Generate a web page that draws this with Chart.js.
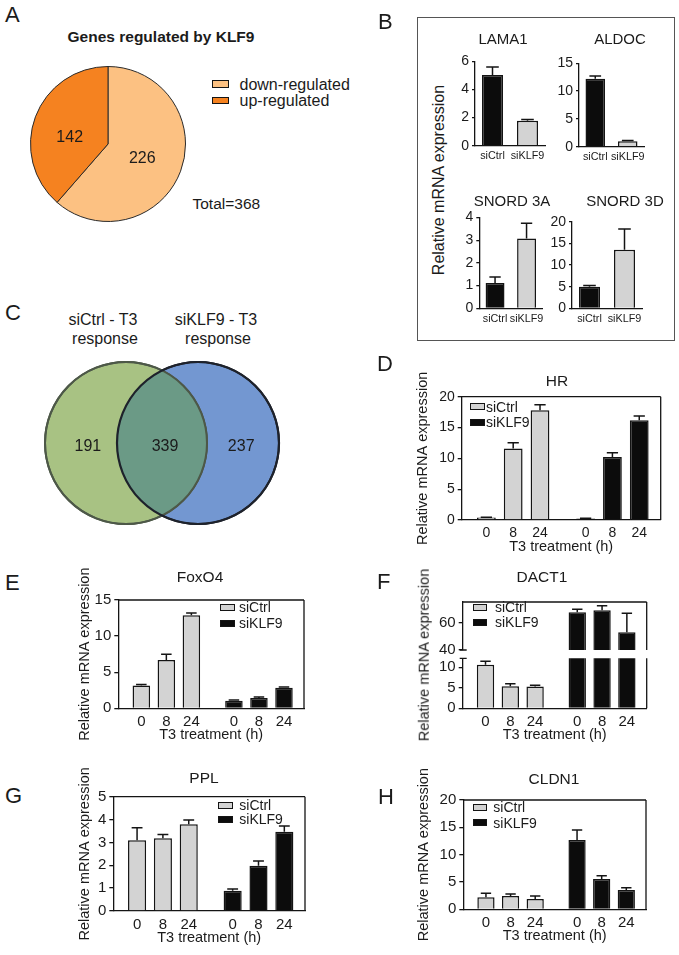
<!DOCTYPE html>
<html>
<head>
<meta charset="utf-8">
<script src="https://cdn.jsdelivr.net/npm/chart.js@4.4.0/dist/chart.umd.min.js"></script>
<style>
  body { margin: 0; background: #fff; }
  #fig { position: relative; width: 679px; height: 955px; overflow: hidden;
         font-family: 'Liberation Sans', Arial, sans-serif; color: #1b1b1b; }
  #fig canvas { position: absolute; }
  .t { position: absolute; white-space: nowrap; line-height: 1; }
  .sw { position: absolute; box-sizing: border-box; border: 1.5px solid #141414; }
  .box { position: absolute; box-sizing: border-box; border: 1.5px solid #555; }
</style>
</head>
<body>
<div id="fig"></div>
<script>
// ---- data ----
const pieLabels = ['down-regulated', 'up-regulated'];
const pieCounts = [226, 142];

const vennLabels = [['siCtrl - T3', 'response'], ['siKLF9 - T3', 'response']];
const vennCounts = [191, 339, 237]; // siCtrl only, both, siKLF9 only

const bGroups = ['siCtrl', 'siKLF9'];
const lama1 = [5.02, 1.78], lama1Err = [0.58, 0.08];
const aldoc = [12.2, 1.0], aldocErr = [0.5, 0.1];
const snord3a = [1.11, 3.08], snord3aErr = [0.27, 0.67];
const snord3d = [5.0, 13.5], snord3dErr = [0.25, 4.8];

const timeLabels = ['0', '8', '24', '0', '8', '24'];
const hrCtrl = [0.4, 11.6, 17.8], hrCtrlErr = [0.05, 0.95, 0.9];
const hrKlf = [0.25, 10.2, 16.2], hrKlfErr = [0.05, 0.7, 0.65];
const foxCtrl = [3.15, 6.7, 12.9], foxCtrlErr = [0.15, 0.8, 0.3];
const foxKlf = [1.06, 1.43, 2.86], foxKlfErr = [0.08, 0.12, 0.08];
const dactCtrl = [10.6, 5.4, 5.3], dactCtrlErr = [0.9, 0.6, 0.3];
const dactKlf = [67.5, 69, 52.9], dactKlfErr = [2.2, 3.3, 13.9];
const pplCtrl = [3.09, 3.18, 3.79], pplCtrlErr = [0.55, 0.17, 0.19];
const pplKlf = [0.89, 1.98, 3.47], pplKlfErr = [0.07, 0.21, 0.25];
const cldnCtrl = [2.2, 2.44, 1.9], cldnCtrlErr = [0.73, 0.36, 0.55];
const cldnKlf = [12.7, 5.55, 3.54], cldnKlfErr = [1.8, 0.61, 0.42];

// ---- styles / layout ----
const INK = '#1b1b1b', EDGE = '#141414', GRAY = '#d3d3d3', BLACK = '#0c0c0c';
const PIE_COLORS = ['#fcc182', '#f58220'];
const GREEN = '#a8c283', BLUE = '#7397d1', OVERLAP = '#6b9a86';
const GREEN_EDGE = '#4d5848', BLUE_EDGE = '#1e222b';
const slots = [0, 1, 2, 3.7, 4.7, 5.7];
const FONT = "'Liberation Sans', Arial, sans-serif";

Chart.defaults.font.family = FONT;
Chart.defaults.color = INK;

const fig = document.getElementById('fig');

function addCanvas(l, t, w, h) {
  const c = document.createElement('canvas');
  c.width = w; c.height = h;
  c.style.left = l + 'px'; c.style.top = t + 'px';
  c.style.width = w + 'px'; c.style.height = h + 'px';
  fig.appendChild(c);
  return c;
}

function text(str, x, y, size, opts = {}) {
  const d = document.createElement('div');
  d.className = 't';
  d.textContent = str;
  d.style.fontSize = size + 'px';
  d.style.left = x + 'px';
  if (opts.bold) d.style.fontWeight = 'bold';
  if (opts.rotate) {
    d.style.top = y + 'px';
    d.style.transform = 'translate(-50%,-50%) rotate(-90deg)';
  } else {
    d.style.top = (y - size * 0.49) + 'px';
    if (opts.center) d.style.transform = 'translateX(-50%)';
  }
  fig.appendChild(d);
}

function swatch(x, y, w, h, color) {
  const d = document.createElement('div');
  d.className = 'sw';
  Object.assign(d.style, { left: x + 'px', top: y + 'px', width: w + 'px', height: h + 'px', background: color });
  fig.appendChild(d);
}

// canvas around a plot area, so the chart area lands where the plot is
function place(plot, left, xh, pb) {
  const top = Math.floor(plot.t) - 40;
  const right = Math.ceil(plot.r) + 12;
  const bottom = Math.ceil(plot.b + xh) + pb;
  const c = addCanvas(left, top, right - left, bottom - top);
  return {
    c, left, xh, yw: plot.l - left,
    padding: { left: 0, top: plot.t - top, right: right - plot.r, bottom: bottom - plot.b - xh }
  };
}

// ---- plugins ----
const errorPlugin = {
  id: 'errbars',
  afterDatasetsDraw(chart) {
    const { ctx, chartArea: a } = chart;
    ctx.save();
    ctx.beginPath();
    ctx.rect(a.left - 1, a.top - 1, a.right - a.left + 2, a.bottom - a.top + 2);
    ctx.clip();
    ctx.strokeStyle = EDGE;
    ctx.lineWidth = 1.5;
    chart.data.datasets.forEach((ds, i) => {
      if (!ds.errors) return;
      const meta = chart.getDatasetMeta(i);
      const ys = chart.scales[meta.yAxisID];
      meta.data.forEach((bar, j) => {
        const v = ds.data[j];
        const val = typeof v === 'object' ? v.y : v;
        const top = ys.getPixelForValue(val + ds.errors[j]);
        const half = bar.width * 0.3;
        ctx.beginPath();
        ctx.moveTo(bar.x, bar.y);
        ctx.lineTo(bar.x, top);
        ctx.moveTo(bar.x - half, top);
        ctx.lineTo(bar.x + half, top);
        ctx.stroke();
      });
    });
    ctx.restore();
  }
};

const framePlugin = {
  id: 'frame',
  afterDraw(chart, args, opts) {
    if (!opts.sides) return;
    const { ctx, chartArea: a } = chart;
    ctx.save();
    ctx.strokeStyle = EDGE;
    ctx.lineWidth = 1.3;
    ctx.beginPath();
    if (opts.sides.includes('t')) { ctx.moveTo(a.left, a.top); ctx.lineTo(a.right, a.top); }
    if (opts.sides.includes('r')) { ctx.moveTo(a.right, a.top); ctx.lineTo(a.right, a.bottom); }
    if (opts.capBottom) { ctx.moveTo(a.left - 3, a.bottom); ctx.lineTo(a.left + 4, a.bottom); }
    if (opts.capTop) { ctx.moveTo(a.left - 3, a.top); ctx.lineTo(a.left + 4, a.top); }
    ctx.stroke();
    ctx.restore();
  }
};

// ---- A: pie ----
new Chart(addCanvas(30, 66, 156, 156), {
  type: 'pie',
  data: {
    labels: pieLabels,
    datasets: [{ data: pieCounts, backgroundColor: PIE_COLORS, borderColor: '#2a2a2a', borderWidth: 1 }]
  },
  options: {
    responsive: false, animation: false,
    layout: { padding: 0 },
    plugins: { legend: { display: false }, tooltip: { enabled: false } }
  },
  plugins: [{
    id: 'pieLabels',
    afterDatasetsDraw(chart) {
      const ctx = chart.ctx;
      ctx.save();
      ctx.fillStyle = INK;
      ctx.font = '16px ' + FONT;
      ctx.textAlign = 'center';
      ctx.textBaseline = 'middle';
      chart.getDatasetMeta(0).data.forEach((arc, i) => {
        const p = arc.tooltipPosition();
        ctx.fillText(String(pieCounts[i]), p.x - 2, p.y + (i === 1 ? 7 : 1));
      });
      ctx.restore();
    }
  }]
});
text('Genes regulated by KLF9', 161, 37, 15.5, { center: true, bold: true });
pieLabels.forEach((lab, i) => {
  swatch(211.7, [80, 96.7][i], 17.6, 7.5, PIE_COLORS[i]);
  text(lab, 239.5, [85, 100.5][i], 16);
});
text('Total=' + pieCounts.reduce((s, v) => s + v, 0), 192.5, 203.5, 15.5);

// ---- B: four small bar charts in a box ----
const bBox = document.createElement('div');
bBox.className = 'box';
Object.assign(bBox.style, { left: '417px', top: '16.5px', width: '257.5px', height: '324px' });
fig.appendChild(bBox);
text('Relative mRNA expression', 439, 180, 16, { rotate: true });

function smallChart(o) {
  const p = place(o.plot, Math.round(o.plot.l - 40), 22, 4);
  new Chart(p.c, {
    type: 'bar',
    data: {
      labels: bGroups,
      datasets: [{
        data: o.values, errors: o.errs,
        backgroundColor: [BLACK, GRAY], borderColor: EDGE, borderWidth: 1.5,
        barPercentage: 0.6, categoryPercentage: 1
      }]
    },
    options: {
      responsive: false, animation: false,
      layout: { padding: p.padding },
      plugins: { legend: { display: false }, tooltip: { enabled: false } },
      scales: {
        x: {
          grid: { display: false, drawTicks: false }, border: { color: EDGE, width: 1.3 },
          ticks: { padding: 4, font: { size: 10.8 }, color: INK, maxRotation: 0, autoSkip: false },
          afterFit: s => { s.height = p.xh; }
        },
        y: {
          min: 0, max: o.max,
          ticks: { stepSize: o.step, includeBounds: false, padding: 3, font: { size: 14 }, color: INK },
          grid: { drawOnChartArea: false, tickLength: 3, color: EDGE, lineWidth: 1.3 },
          border: { color: EDGE, width: 1.3 },
          afterFit: s => { s.width = p.yw; }
        }
      }
    },
    plugins: [errorPlugin]
  });
  text(o.title, o.tx, o.ty, 15, { center: true });
}

smallChart({ title: 'LAMA1', tx: 503, ty: 38.5, values: lama1, errs: lama1Err, max: 6, step: 2,
  plot: { l: 475, r: 545, t: 61.3, b: 145.7 } });
smallChart({ title: 'ALDOC', tx: 620, ty: 38.5, values: aldoc, errs: aldocErr, max: 15, step: 5,
  plot: { l: 579, r: 644, t: 63.3, b: 146.7 } });
smallChart({ title: 'SNORD 3A', tx: 512, ty: 200, values: snord3a, errs: snord3aErr, max: 4, step: 1,
  plot: { l: 479.3, r: 542.3, t: 217.5, b: 308.3 } });
smallChart({ title: 'SNORD 3D', tx: 625, ty: 200, values: snord3d, errs: snord3dErr, max: 20, step: 5,
  plot: { l: 572, r: 642, t: 221.7, b: 308.3 } });

// ---- C: Venn ----
new Chart(addCanvas(30, 355, 264, 176), {
  type: 'scatter',
  data: {
    datasets: [
      { data: [{ x: -0.5, y: 0 }], pointRadius: 81, backgroundColor: GREEN, borderColor: GREEN_EDGE, borderWidth: 2, clip: false },
      { data: [{ x: 0.5, y: 0 }], pointRadius: 81, backgroundColor: BLUE, borderColor: BLUE_EDGE, borderWidth: 2, clip: false }
    ]
  },
  options: {
    responsive: false, animation: false,
    layout: { padding: 0, autoPadding: false },
    plugins: { legend: { display: false }, tooltip: { enabled: false } },
    scales: {
      x: { display: false, min: -1.8333, max: 1.8333 },
      y: { display: false, min: -1, max: 1 }
    }
  },
  plugins: [{
    id: 'venn',
    afterDatasetsDraw(chart) {
      const ctx = chart.ctx;
      const a = chart.getDatasetMeta(0).data[0];
      const b = chart.getDatasetMeta(1).data[0];
      const r = a.options.radius;
      ctx.save();
      ctx.beginPath(); ctx.arc(a.x, a.y, r, 0, Math.PI * 2); ctx.clip();
      ctx.fillStyle = OVERLAP;
      ctx.beginPath(); ctx.arc(b.x, b.y, r, 0, Math.PI * 2); ctx.fill();
      ctx.restore();
      ctx.save();
      ctx.lineWidth = 2;
      ctx.strokeStyle = GREEN_EDGE;
      ctx.beginPath(); ctx.arc(a.x, a.y, r, 0, Math.PI * 2); ctx.stroke();
      ctx.lineWidth = 2.2;
      ctx.strokeStyle = BLUE_EDGE;
      ctx.beginPath(); ctx.arc(b.x, b.y, r, 0, Math.PI * 2); ctx.stroke();
      ctx.fillStyle = INK;
      ctx.font = '16px ' + FONT;
      ctx.textAlign = 'center';
      ctx.textBaseline = 'middle';
      const d = b.x - a.x;
      ctx.fillText(String(vennCounts[0]), a.x - 0.53 * d, a.y + 4);
      ctx.fillText(String(vennCounts[1]), (a.x + b.x) / 2 + 3, a.y + 4);
      ctx.fillText(String(vennCounts[2]), b.x + 0.6 * d, a.y + 4);
      ctx.restore();
    }
  }]
});
vennLabels[0].forEach((s, i) => text(s, 103 + i * 2, 320 + i * 19, 16, { center: true }));
vennLabels[1].forEach((s, i) => text(s, 216 + i * 2, 320 + i * 19, 16, { center: true }));

// ---- D-H: time-course bar charts ----
function bars(label, values, errs, first, color) {
  return {
    label, errors: errs,
    data: values.map((v, i) => ({ x: slots[first + i], y: v })),
    backgroundColor: color, borderColor: EDGE, borderWidth: 1.5,
    grouped: false, barPercentage: 0.7, categoryPercentage: 1, clip: 0
  };
}

function timeChart(o) {
  const xh = o.xAxis === false ? 0 : 36;
  const p = place(o.plot, o.left, xh, o.pb || 4);
  const lh = 14.5 * 1.2;
  return new Chart(p.c, {
    type: 'bar',
    data: {
      datasets: [
        bars(bGroups[0], o.ctrl, o.ctrlErr, 0, GRAY),
        bars(bGroups[1], o.klf, o.klfErr, 3, BLACK)
      ]
    },
    options: {
      responsive: false, animation: false,
      layout: { padding: p.padding },
      plugins: {
        legend: { display: false }, tooltip: { enabled: false },
        frame: { sides: o.sides || 'tr', capBottom: o.capBottom, capTop: o.capTop }
      },
      scales: {
        x: {
          type: 'linear', min: -0.92, max: 6.5, offset: false, display: o.xAxis !== false,
          grid: { display: false, drawTicks: false }, border: { color: EDGE, width: 1.3 },
          afterBuildTicks: s => { s.ticks = slots.map(v => ({ value: v })); },
          ticks: { autoSkip: false, maxRotation: 0, padding: 4.7, font: { size: o.tick }, color: INK,
                   callback: (v, i) => timeLabels[i] },
          title: { display: true, text: 'T3 treatment (h)', font: { size: 14.5 }, color: INK,
                   padding: { top: 0, bottom: Math.max(xh - 27 - lh / 2, 0) } },
          afterFit: s => { s.height = xh; }
        },
        y: {
          min: o.min, max: o.max,
          ticks: { stepSize: o.step, includeBounds: false, padding: 3, font: { size: o.tick }, color: INK },
          grid: { drawOnChartArea: false, tickLength: 4, color: EDGE, lineWidth: 1.3 },
          border: { color: EDGE, width: 1.3 },
          title: { display: !!o.yTitleX, text: 'Relative mRNA expression', font: { size: 14.5 }, color: INK,
                   padding: { top: o.yTitleX ? o.yTitleX - p.left - lh / 2 : 0, bottom: 0 } },
          afterFit: s => { s.width = p.yw; }
        }
      }
    },
    plugins: [errorPlugin, framePlugin]
  });
}

function legend(iconX, iconW, textX, ys, size) {
  [GRAY, BLACK].forEach((c, i) => {
    swatch(iconX, ys[i] - 3.5, iconW, 7, c);
    text(bGroups[i], textX, ys[i], size);
  });
}

// D: HR
timeChart({ plot: { l: 461.7, r: 660.7, t: 396.7, b: 520 }, left: 410, yTitleX: 423.3, tick: 14,
  min: 0, max: 20, step: 5, ctrl: hrCtrl, ctrlErr: hrCtrlErr, klf: hrKlf, klfErr: hrKlfErr });
text('HR', 557, 381, 15.5, { center: true });
legend(470, 15, 486, [406.7, 422], 14);

// E: FoxO4
timeChart({ plot: { l: 118.3, r: 304, t: 600, b: 708.3 }, left: 72, yTitleX: 85.3, tick: 15,
  min: 0, max: 15, step: 5, ctrl: foxCtrl, ctrlErr: foxCtrlErr, klf: foxKlf, klfErr: foxKlfErr });
text('FoxO4', 200, 577, 15.5, { center: true });
legend(220, 15, 239, [607, 623], 14);

// F: DACT1, broken axis as two stacked charts
timeChart({ plot: { l: 462.7, r: 646.7, t: 602, b: 650 }, left: 410, tick: 15, xAxis: false, pb: 16,
  sides: 'tr', capBottom: true,
  min: 40, max: 75, step: 20, ctrl: dactCtrl, ctrlErr: dactCtrlErr, klf: dactKlf, klfErr: dactKlfErr });
timeChart({ plot: { l: 462.7, r: 646.7, t: 658.3, b: 708.3 }, left: 410, tick: 15,
  sides: 'r', capTop: true,
  min: 0, max: 12.2, step: 5, ctrl: dactCtrl, ctrlErr: dactCtrlErr, klf: dactKlf, klfErr: dactKlfErr });
text('Relative mRNA expression', 423.7, 655, 14.5, { rotate: true });
text('DACT1', 542, 577, 15.5, { center: true });
legend(472.7, 14, 495, [607.3, 622.3], 14);

// G: PPL
timeChart({ plot: { l: 113.3, r: 305, t: 796.7, b: 911 }, left: 72, yTitleX: 85.3, tick: 15,
  min: 0, max: 5, step: 1, ctrl: pplCtrl, ctrlErr: pplCtrlErr, klf: pplKlf, klfErr: pplKlfErr });
text('PPL', 204, 778, 15.5, { center: true });
legend(218.3, 15, 239.3, [805, 819.3], 14);

// H: CLDN1
timeChart({ plot: { l: 463.3, r: 646, t: 800, b: 909.3 }, left: 410, yTitleX: 424, tick: 15,
  min: 0, max: 20, step: 5, ctrl: cldnCtrl, ctrlErr: cldnCtrlErr, klf: cldnKlf, klfErr: cldnKlfErr });
text('CLDN1', 554, 779, 15.5, { center: true });
legend(472.7, 14, 493.3, [807.3, 822.7], 14);

// panel letters
[['A', 5, 15], ['B', 378, 21.5], ['C', 5, 312.5], ['D', 377, 363.5],
 ['E', 5, 582.5], ['F', 377, 581.5], ['G', 5, 796], ['H', 378, 797]].forEach(([s, x, y]) => text(s, x, y, 22));
</script>
</body>
</html>
